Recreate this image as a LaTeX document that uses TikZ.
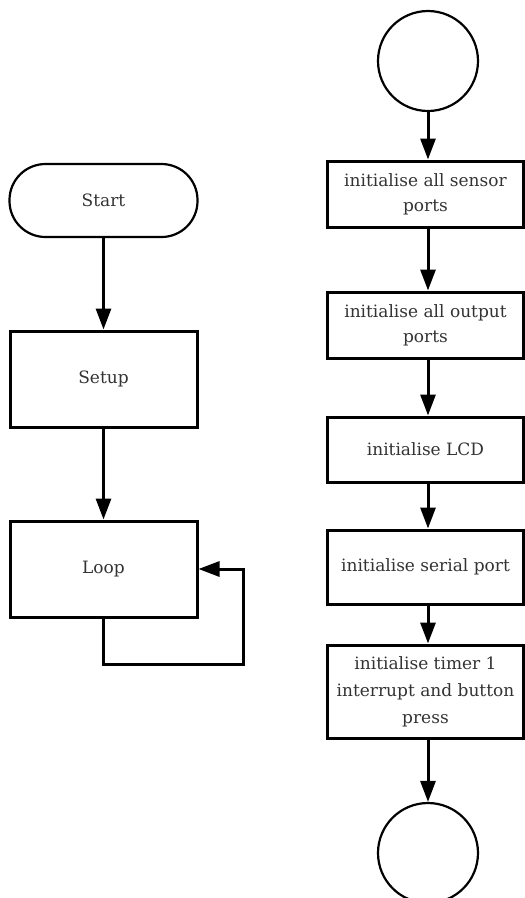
\documentclass[tikz,border=0pt]{standalone}
\usepackage{fontspec}
\setmainfont{DejaVu Serif}
\usetikzlibrary{arrows.meta}
\begin{document}
\begin{tikzpicture}[x=1pt,y=-1pt,
  proc/.style={draw=black,line width=3pt,rectangle,inner sep=0pt,align=center,
    text=black!80,font=\fontsize{17}{25}\selectfont},
  term/.style={draw=black,line width=2.2pt,rectangle,rounded corners=36pt,inner sep=0pt,
    text=black!80,minimum width=188pt,minimum height=73pt,font=\fontsize{17}{25}\selectfont},
  conn/.style={draw=black,line width=2.2pt,circle,inner sep=0pt,minimum size=100pt},
  flow/.style={line width=3pt,-{Triangle[length=21pt,width=15pt]}}]
\useasboundingbox (0,0) rectangle (525,898);
% left column
\node[term] (start) at (103.5,200.5) {Start};
\node[proc,minimum width=187pt,minimum height=96pt] (setup) at (103.5,379) {Setup};
\node[proc,minimum width=187pt,minimum height=96pt] (loop) at (103.5,569) {Loop};
\coordinate (lc) at (243,664);
\draw[flow] (start) -- (setup);
\draw[flow] (setup) -- (loop);
\draw[flow] (loop.south) |- (lc) |- (loop.east);
% right column
\node[conn] (ctop) at (428,61) {};
\node[proc,minimum width=196pt,minimum height=66pt] (b1) at (425.5,194) {initialise all sensor\\ports};
\node[proc,minimum width=196pt,minimum height=66pt] (b2) at (425.5,325) {initialise all output\\ports};
\node[proc,minimum width=196pt,minimum height=65pt] (b3) at (425.5,449.5) {initialise LCD};
\node[proc,minimum width=196pt,minimum height=74pt] (b4) at (425.5,567) {initialise serial port};
\node[proc,minimum width=196pt,minimum height=93pt,font=\fontsize{17}{27}\selectfont] (b5) at (425.5,691.5) {initialise timer 1\\interrupt and button\\press};
\node[conn] (cbot) at (428,853) {};
\draw[flow] (ctop.south) -- (ctop.south |- b1.north);
\draw[flow] (b1.south -| ctop.south) -- (ctop.south |- b2.north);
\draw[flow] (b2.south -| ctop.south) -- (ctop.south |- b3.north);
\draw[flow] (b3.south -| ctop.south) -- (ctop.south |- b4.north);
\draw[flow] (b4.south -| ctop.south) -- (ctop.south |- b5.north);
\draw[flow] (b5.south -| ctop.south) -- (cbot.north);
\end{tikzpicture}
\end{document}
